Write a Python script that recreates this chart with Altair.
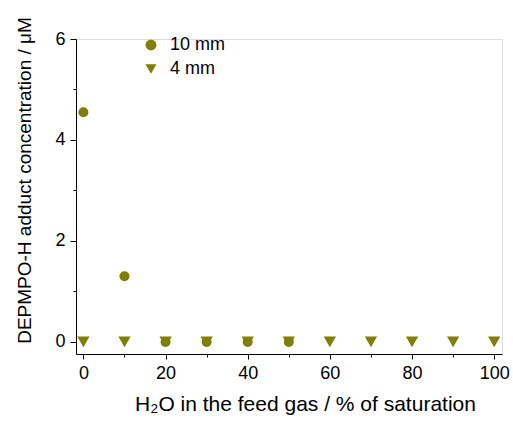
import altair as alt
import pandas as pd

x_10mm = [0, 10, 20, 30, 40, 50]
y_10mm = [4.55, 1.3, 0, 0, 0, 0]
x_4mm = [0, 10, 20, 30, 40, 50, 60, 70, 80, 90, 100]
y_4mm = [0, 0, 0, 0, 0, 0, 0, 0, 0, 0, 0]
series = ["10 mm", "4 mm"]
x_major = [0, 20, 40, 60, 80, 100]
x_minor = [10, 30, 50, 70, 90]
y_major = [0, 2, 4, 6]
y_minor = [1, 3, 5]

df10 = pd.DataFrame({"x": x_10mm, "y": y_10mm, "s": series[0]})
df4 = pd.DataFrame({"x": x_4mm, "y": y_4mm, "s": series[1]})

OLIVE = "#7f7f00"
FONT = "Liberation Sans"
xs = alt.Scale(domain=[-1.8, 101.9], nice=False, zero=False)
ys = alt.Scale(domain=[-0.24, 6], nice=False, zero=False)
shape_scale = alt.Scale(domain=series, range=["circle", "triangle-down"])

xaxis = alt.Axis(
    values=x_major, title="H₂O in the feed gas / % of saturation",
    grid=False, tickSize=5, labelPadding=5, titlePadding=11, titleX=229,
    domainColor="black", tickColor="black", labelColor="black",
    labelFontSize=18, titleFontSize=21, labelFont=FONT, titleFont=FONT,
    titleFontWeight="normal", titleColor="black", orient="bottom")
yaxis = alt.Axis(
    values=y_major, title="DEPMPO-H adduct concentration / μM",
    grid=False, tickSize=6, labelPadding=5, titlePadding=20, titleY=141,
    domainColor="black", tickColor="black", labelColor="black",
    labelFontSize=18, titleFontSize=19, labelFont=FONT, titleFont=FONT,
    titleFontWeight="normal", titleColor="black", orient="left")

legend = alt.Legend(title=None, orient="none", legendX=66, legendY=-3,
                    labelFontSize=18, labelFont=FONT, labelColor="black",
                    symbolSize=120, symbolFillColor=OLIVE, symbolStrokeColor=OLIVE,
                    rowPadding=6, labelOffset=10, padding=0)

tri = alt.Chart(df4).mark_point(filled=True, opacity=1, size=150, color=OLIVE).encode(
    x=alt.X("x:Q", scale=xs, axis=xaxis),
    y=alt.Y("y:Q", scale=ys, axis=yaxis),
    shape=alt.Shape("s:N", scale=shape_scale, legend=legend),
)
circ = alt.Chart(df10).mark_point(filled=True, opacity=1, size=100, color=OLIVE).encode(
    x=alt.X("x:Q", scale=xs),
    y=alt.Y("y:Q", scale=ys),
    shape=alt.Shape("s:N", scale=shape_scale, legend=legend),
)

minor = alt.Chart(df4).mark_point(opacity=0).encode(
    x=alt.X("x:Q", scale=xs, axis=alt.Axis(
        values=x_minor, labels=False, domain=False, grid=False, title=None,
        tickSize=3, tickColor="black", orient="bottom")),
    y=alt.Y("y:Q", scale=ys, axis=alt.Axis(
        values=y_minor, labels=False, domain=False, grid=False, title=None,
        tickSize=3, tickColor="black", orient="left")),
)

main = alt.layer(tri, circ)

chart = alt.layer(minor, main).resolve_axis(x="independent", y="independent").properties(
    width=426, height=315,
    autosize=alt.AutoSizeParams(type="none"),
    padding={"left": 76, "top": 39, "right": 11, "bottom": 69},
).configure_view(stroke=None).configure(background="white")

chart.save("out.html", embed_options={"renderer": "svg", "actions": False})
